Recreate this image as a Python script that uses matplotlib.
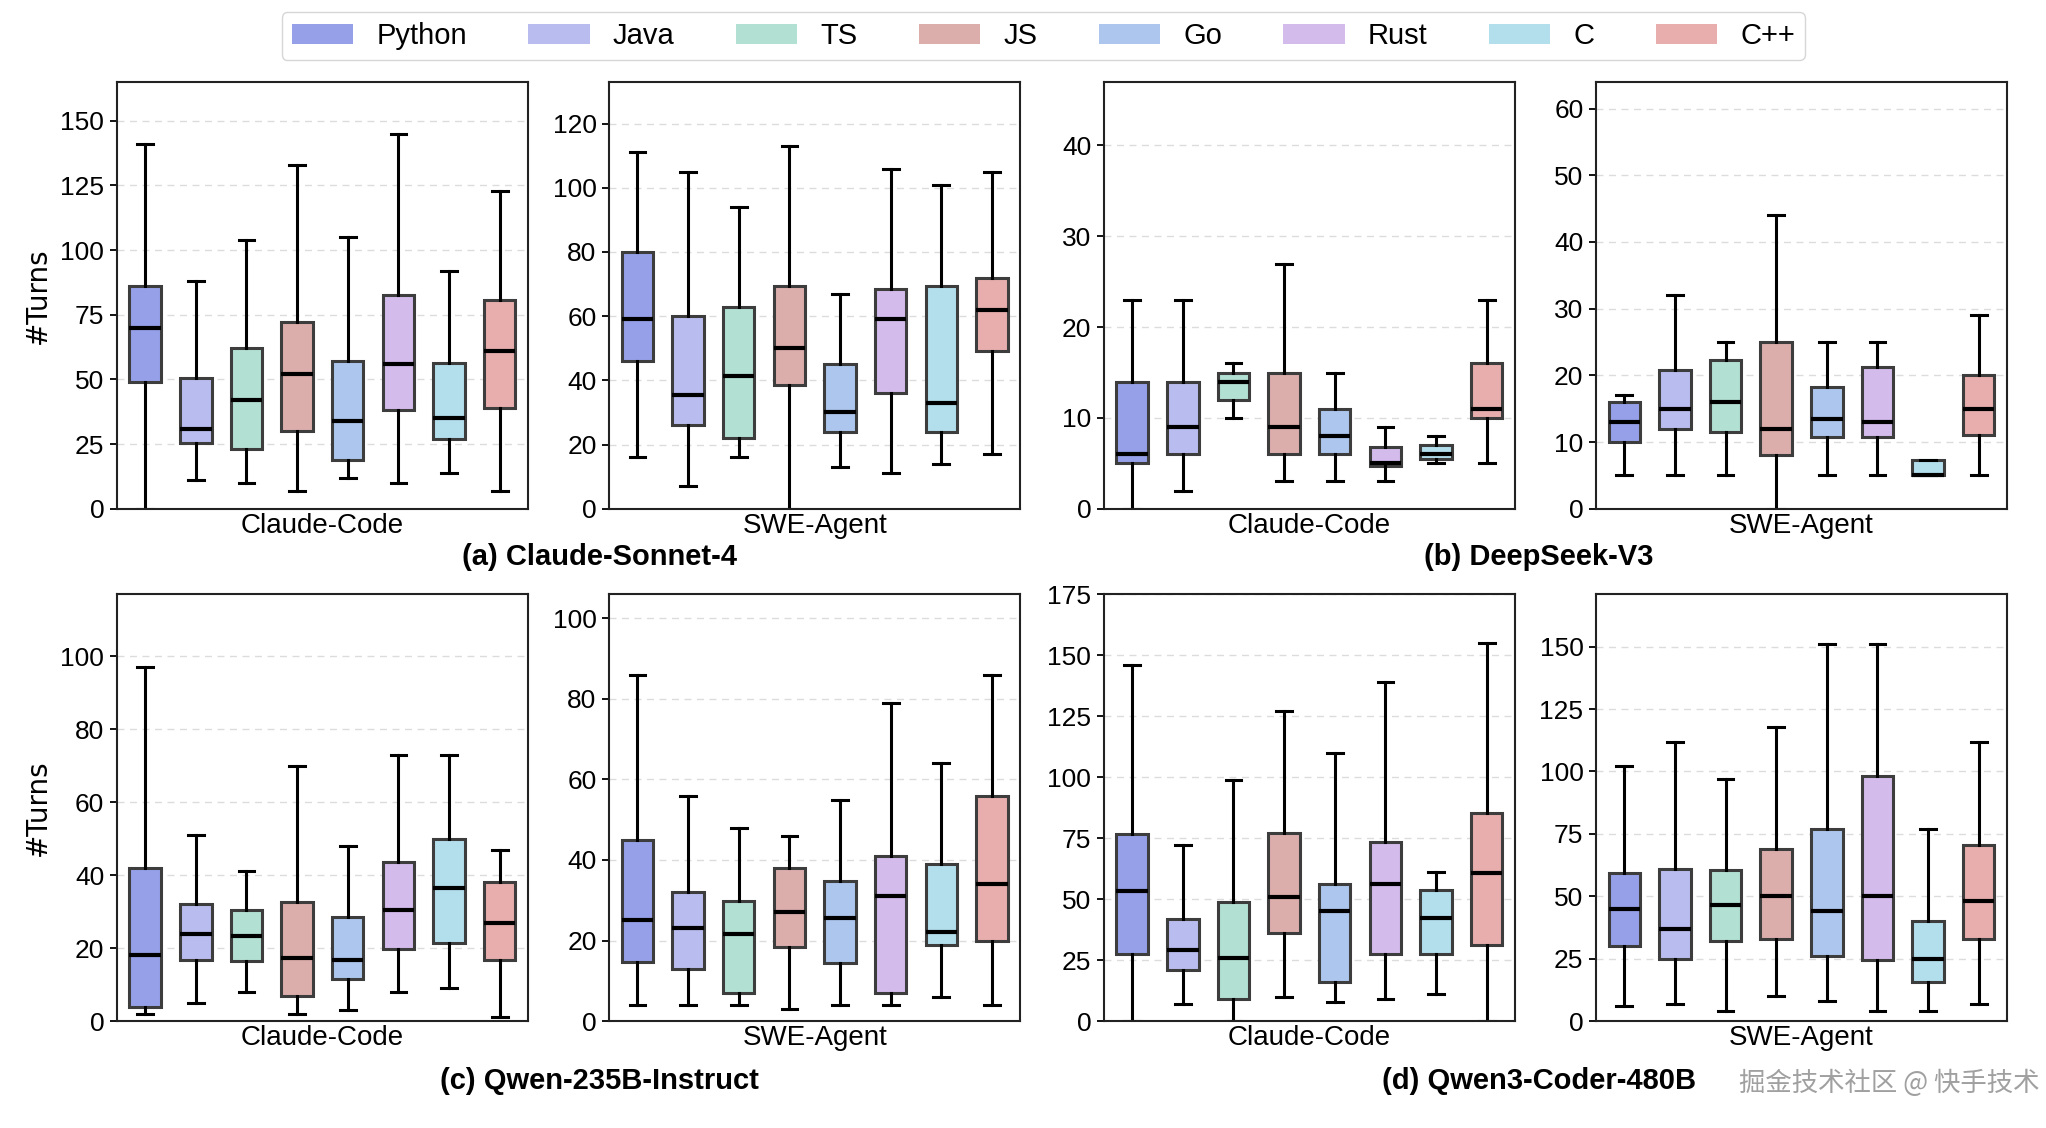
import matplotlib
matplotlib.use("Agg")
import matplotlib.pyplot as plt
from matplotlib.patches import Patch

plt.rcParams['font.family'] = ['Liberation Sans', 'DejaVu Sans']

languages = ["Python", "Java", "TS", "JS", "Go", "Rust", "C", "C++"]
colors = ["#96a0e8", "#b9bcee", "#b2e0d2", "#dbaeac", "#adc6ed", "#d3bbec", "#b3deec", "#e8aeae"]
frameworks = ["Claude-Code", "SWE-Agent"]
models = ["(a) Claude-Sonnet-4", "(b) DeepSeek-V3", "(c) Qwen-235B-Instruct", "(d) Qwen3-Coder-480B"]

# (a) Claude-Sonnet-4
a_cc_lo  = [0, 11, 10, 7, 12, 10, 14, 7]
a_cc_q1  = [49, 25.3, 23, 30, 19, 38, 27, 39]
a_cc_med = [70, 31, 42, 52, 34, 56, 35, 61]
a_cc_q3  = [86, 50.5, 62, 72, 57, 82.6, 56.5, 80.7]
a_cc_hi  = [141, 88, 104, 133, 105, 145, 92, 123]

a_sw_lo  = [16, 7, 16, 0, 13, 11, 14, 17]
a_sw_q1  = [46, 26, 22, 38.5, 24, 36, 24, 49]
a_sw_med = [59, 35.4, 41.4, 50, 30, 59, 33, 62]
a_sw_q3  = [80, 60, 63, 69.3, 45.2, 68.6, 69.4, 72]
a_sw_hi  = [111, 105, 94, 113, 67, 106, 101, 105]

# (b) DeepSeek-V3
b_cc_lo  = [0, 2, 10, 3, 3, 3, 5, 5]
b_cc_q1  = [5, 6, 12, 6, 6, 4.7, 5.5, 10]
b_cc_med = [6, 9, 14, 9, 8, 5, 6, 11]
b_cc_q3  = [14, 14, 15, 15, 11, 6.8, 7, 16]
b_cc_hi  = [23, 23, 16, 27, 15, 9, 8, 23]

b_sw_lo  = [5, 5, 5, 0, 5, 5, 5, 5]
b_sw_q1  = [10, 12, 11.5, 8, 10.8, 10.8, 5, 11]
b_sw_med = [13, 15, 16, 12, 13.5, 13, 5, 15]
b_sw_q3  = [16, 20.8, 22.3, 25, 18.2, 21.2, 7.3, 20]
b_sw_hi  = [17, 32, 25, 44, 25, 25, 7.3, 29]

# (c) Qwen-235B-Instruct
c_cc_lo  = [2, 5, 8, 2, 3, 8, 9, 1]
c_cc_q1  = [3.8, 16.8, 16.6, 7, 11.4, 19.8, 21.3, 16.8]
c_cc_med = [18, 24, 23.4, 17.4, 16.8, 30.4, 36.5, 27]
c_cc_q3  = [42, 32.2, 30.5, 32.6, 28.5, 43.5, 50, 38]
c_cc_hi  = [97, 51, 41, 70, 48, 73, 73, 47]

c_sw_lo  = [4, 4, 4, 3, 4, 4, 6, 4]
c_sw_q1  = [14.7, 13, 7, 18.4, 14.3, 7, 19, 20]
c_sw_med = [25, 23, 21.5, 27, 25.6, 31, 22, 34]
c_sw_q3  = [45, 32, 29.8, 38, 34.8, 41, 39, 55.8]
c_sw_hi  = [86, 56, 48, 46, 55, 79, 64, 86]

# (d) Qwen3-Coder-480B
d_cc_lo  = [0, 7, 0, 10, 8, 9, 11, 0]
d_cc_q1  = [27.3, 20.8, 9, 36, 16, 27.7, 27.3, 31]
d_cc_med = [53.5, 29, 26, 51, 45, 56, 42.4, 60.6]
d_cc_q3  = [76.5, 42, 49, 77.2, 56, 73.5, 53.6, 85.5]
d_cc_hi  = [146, 72, 99, 127, 110, 139, 61, 155]

d_sw_lo  = [6, 7, 4, 10, 8, 4, 4, 7]
d_sw_q1  = [30, 25, 32, 33, 26, 24.6, 15.6, 33]
d_sw_med = [45, 37, 46.5, 50, 44, 50, 25, 48]
d_sw_q3  = [59.5, 61, 60.7, 69, 77, 98, 40, 70.7]
d_sw_hi  = [102, 112, 97, 118, 151, 151, 77, 112]

panels = [
    (a_cc_lo, a_cc_q1, a_cc_med, a_cc_q3, a_cc_hi),
    (a_sw_lo, a_sw_q1, a_sw_med, a_sw_q3, a_sw_hi),
    (b_cc_lo, b_cc_q1, b_cc_med, b_cc_q3, b_cc_hi),
    (b_sw_lo, b_sw_q1, b_sw_med, b_sw_q3, b_sw_hi),
    (c_cc_lo, c_cc_q1, c_cc_med, c_cc_q3, c_cc_hi),
    (c_sw_lo, c_sw_q1, c_sw_med, c_sw_q3, c_sw_hi),
    (d_cc_lo, d_cc_q1, d_cc_med, d_cc_q3, d_cc_hi),
    (d_sw_lo, d_sw_q1, d_sw_med, d_sw_q3, d_sw_hi),
]
ylims = [165, 133, 47, 64, 117, 106, 175, 171]
ysteps = [25, 20, 10, 10, 20, 20, 25, 25]
ymaxtick = [150, 120, 40, 60, 100, 100, 175, 150]

fig = plt.figure(figsize=(20.46, 11.28), dpi=100)
lefts = [0.0571, 0.2977, 0.5395, 0.780]
width = 0.2010
bottoms = [0.549, 0.0948]
height = 0.3784

for i, stats in enumerate(panels):
    row = i // 4
    col = i % 4
    ax = fig.add_axes([lefts[col], bottoms[row], width, height])
    lo, q1, med, q3, hi = stats
    bxpstats = [dict(whislo=lo[k], q1=q1[k], med=med[k], q3=q3[k], whishi=hi[k], fliers=[])
                for k in range(len(languages))]
    res = ax.bxp(bxpstats, positions=list(range(len(languages))), widths=0.62,
                 patch_artist=True, showfliers=False,
                 boxprops=dict(edgecolor="#3d3d3d", linewidth=2.2),
                 medianprops=dict(color="black", linewidth=3),
                 whiskerprops=dict(color="black", linewidth=2.2),
                 capprops=dict(color="black", linewidth=2.2))
    for patch, c in zip(res['boxes'], colors):
        patch.set_facecolor(c)
    ax.set_xlim(-0.56, 7.56)
    ax.set_ylim(0, ylims[i])
    ax.set_yticks(list(range(0, ymaxtick[i] + 1, ysteps[i])))
    ax.set_xticks([])
    ax.tick_params(axis='y', labelsize=19, length=5, width=1.3, pad=4)
    ax.yaxis.grid(True, linestyle=(0, (5, 4)), color="#dcdcdc", linewidth=1.0)
    ax.set_axisbelow(True)
    for s in ax.spines.values():
        s.set_linewidth(1.5)
        s.set_color("#222222")
    ax.set_xlabel(frameworks[col % 2], fontsize=20, labelpad=3)
    if col == 0:
        ax.set_ylabel("#Turns", fontsize=20, family="DejaVu Sans", labelpad=6)

# subplot group titles
fig.text(0.293, 0.506, models[0], ha="center", va="center", fontsize=21, fontweight="bold")
fig.text(0.752, 0.506, models[1], ha="center", va="center", fontsize=21, fontweight="bold")
fig.text(0.293, 0.0417, models[2], ha="center", va="center", fontsize=21, fontweight="bold")
fig.text(0.752, 0.0417, models[3], ha="center", va="center", fontsize=21, fontweight="bold")

# legend
handles = [Patch(facecolor=c, edgecolor="none") for c in colors]
fig.legend(handles, languages, loc="center", bbox_to_anchor=(0.51, 0.968), ncol=8,
           fontsize=21, frameon=True, fancybox=True, edgecolor="#cccccc",
           handlelength=2.1, handleheight=0.7, handletextpad=0.8, columnspacing=2.1,
           borderpad=0.35)

# watermark
fig.text(0.997, 0.04, "掘金技术社区 @ 快手技术", ha="right", va="center", fontsize=19,
         color="#a0a0a0", family=["Noto Sans CJK SC", "DejaVu Sans"])

fig.savefig("out.png", dpi=100)
